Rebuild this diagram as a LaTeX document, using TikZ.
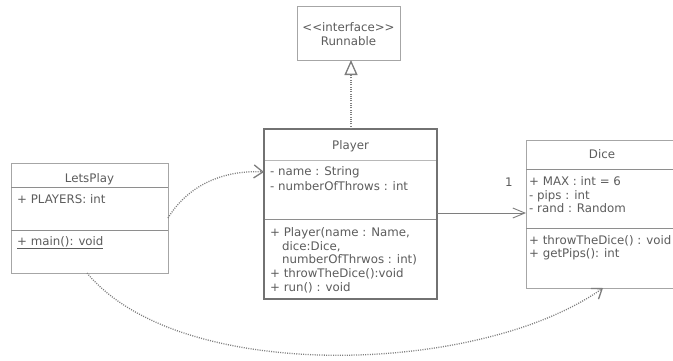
\documentclass[tikz,border=0pt]{standalone}
\usepackage{fontspec}
\setmainfont{DejaVu Sans}
\usetikzlibrary{arrows.meta}
\definecolor{txt}{HTML}{5C5C5C}
\definecolor{frame}{HTML}{A6A6A6}
\definecolor{rule}{HTML}{8E8E8E}
\definecolor{heavy}{HTML}{727272}
\definecolor{link}{HTML}{7E7E7E}
\begin{document}
\begin{tikzpicture}[x=1pt,y=-1pt,
  box/.style={draw=frame, line width=0.9pt, fill=white, inner sep=0, outer sep=0, anchor=north west},
  mainbox/.style={box, draw=heavy, line width=2.6pt},
  divider/.style={draw=rule, line width=0.8pt},
  softdivider/.style={draw=frame!80, line width=0.8pt},
  lbl/.style={text=txt, font=\fontsize{11.8}{13.7}\selectfont, inner sep=0, anchor=base west},
  title/.style={lbl, anchor=base},
  dep/.style={draw=link, line width=1.3pt, dash pattern=on 1pt off 1.3pt,
    -{Straight Barb[length=9pt,width=13pt,line width=1.3pt]}},
  assoc/.style={draw=link, line width=0.9pt,
    -{Straight Barb[length=12pt,width=10pt,line width=0.9pt]}},
  realize/.style={draw=link, line width=1.3pt, dash pattern=on 1pt off 1.3pt,
    -{Triangle[open,length=15pt,width=13pt,line width=1.3pt]}}]
\clip (0,0) rectangle (673,360);
\fill[white] (0,0) rectangle (673,360);

% class frames
\node[box, minimum width=103pt, minimum height=54pt] (runnable) at (297,6) {};
\node[box, minimum width=157pt, minimum height=110pt] (letsplay) at (11,163) {};
\node[box, minimum width=180pt, minimum height=148pt] (dice) at (526,140) {};
\node[mainbox, minimum width=173pt, minimum height=170pt] (player) at (264,129) {};

% compartment rules
\draw[divider] (11,187) -- (168,187);
\draw[divider] (11,230) -- (168,230);
\draw[softdivider] (265,160) -- (436,160);
\draw[divider] (265,219) -- (436,219);
\draw[divider] (526,169) -- (673,169);
\draw[divider] (526,228) -- (673,228);

% Runnable
\node[title] (rstereo) at (348.5,31) {<{}<interface>{}>};
\node[title] (rname) at (348.5,45) {Runnable};

% LetsPlay
\node[title] (lname) at (89.5,182) {LetsPlay};
\node[lbl] (lattr) at (17,203) {+ PLAYERS: int};
\node[lbl] (lmeth) at (17,245) {\underline{+ main(): void}};

% Player
\node[title] (pname) at (350.5,149) {Player};
\node[lbl] (pa1) at (270,175) {- name : String};
\node[lbl] (pa2) at (270,190) {- numberOfThrows : int};
\node[lbl] (pm1) at (270,236) {+ Player(name : Name,};
\node[lbl] (pm2) at (282,250) {dice:Dice,};
\node[lbl] (pm3) at (282,263) {numberOfThrwos : int)};
\node[lbl] (pm4) at (270,277) {+ throwTheDice():void};
\node[lbl] (pm5) at (270,291) {+ run() : void};

% Dice
\node[title] (dname) at (602,158) {Dice};
\node[lbl] (da1) at (529,185) {+ MAX : int = 6};
\node[lbl] (da2) at (529,199) {- pips : int};
\node[lbl] (da3) at (529,212) {- rand : Random};
\node[lbl] (dm1) at (529,244) {+ throwTheDice() : void};
\node[lbl] (dm2) at (529,257) {+ getPips(): int};
\node[title] (mult) at (509,186) {1};

% connectors
\coordinate (implx) at (351,0);
\coordinate (assocy) at (0,213);
\coordinate (dicex) at (603,0);
\coordinate (lpx) at (87,0);
\coordinate (lpy) at (0,218);
\coordinate (ply) at (0,172);

\draw[realize] (player.north -| implx) -- (runnable.south -| implx);
\draw[assoc] (player.east |- assocy) -- (dice.west |- assocy);
\draw[dep] (letsplay.east |- lpy) .. controls (190,182) and (228,170) .. (player.west |- ply);
\draw[dep] (letsplay.south -| lpx) .. controls (180,385) and (480,375) .. (dice.south -| dicex);
\end{tikzpicture}
\end{document}
